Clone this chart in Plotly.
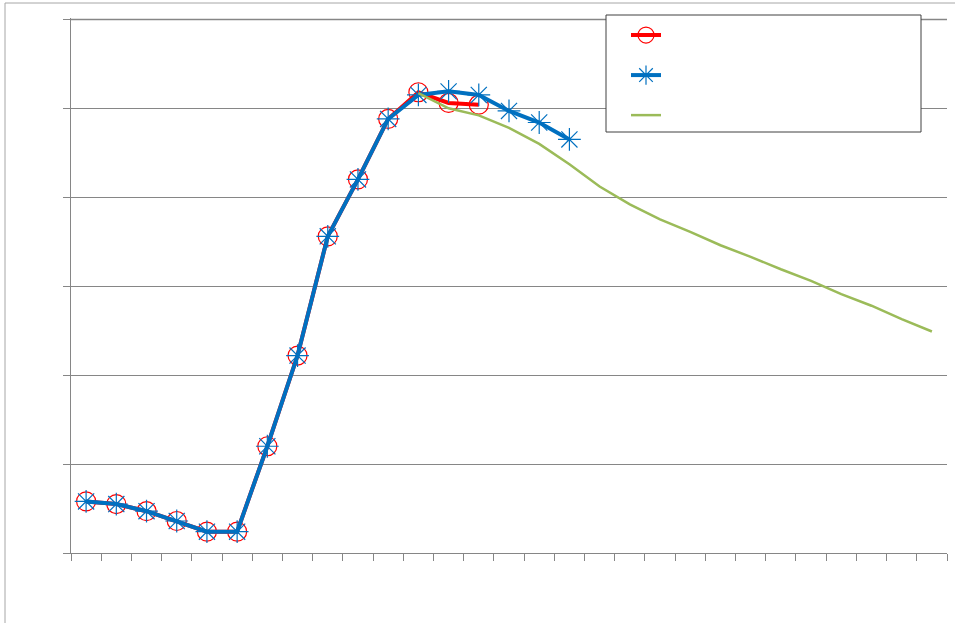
import plotly.graph_objects as go

# category positions 0..28 along the x axis
categories = list(range(29))

# measured series
series_a = [0.58, 0.55, 0.47, 0.36, 0.24, 0.24, 1.20, 2.22, 3.56, 4.20, 4.88, 5.18, 5.06, 5.04]
series_b = [0.58, 0.55, 0.47, 0.36, 0.24, 0.24, 1.20, 2.22, 3.56, 4.20, 4.88, 5.15, 5.19, 5.15, 4.97, 4.84, 4.65]
# fitted curve, starting at category 11
fit_start = 11
series_fit = [5.17, 5.00, 4.92, 4.78, 4.60, 4.37, 4.12, 3.92, 3.75, 3.61, 3.46, 3.33,
              3.19, 3.06, 2.91, 2.78, 2.63, 2.49]

y_max = 6

W, H = 955, 623
L, R, T, B = 71, 8, 18, 70
pw, ph = W - L - R, H - T - B


def px(x):
    return (x - L) / pw


def py(y):
    return (H - B - y) / ph


fig = go.Figure()

fig.add_trace(go.Scatter(
    x=categories[:len(series_a)], y=series_a, name=" ", mode="lines+markers",
    line=dict(color="#FF0000", width=4),
    marker=dict(symbol="circle-open", size=19, color="#FF0000", line=dict(width=1.2)),
))
fig.add_trace(go.Scatter(
    x=categories[:len(series_b)], y=series_b, name=" ", mode="lines+markers",
    line=dict(color="#0070C0", width=4),
    marker=dict(symbol="asterisk-open", size=19, color="#0070C0", line=dict(width=1.2, color="#0070C0")),
))
fig.add_trace(go.Scatter(
    x=categories[fit_start:fit_start + len(series_fit)], y=series_fit, name=" ", mode="lines",
    line=dict(color="#9BBB59", width=2.5),
))

shapes = [
    # chart frame
    dict(type="rect", xref="paper", yref="paper", x0=px(5), x1=px(965), y0=py(633), y1=py(3),
         line=dict(color="#A6A6A6", width=1), fillcolor="rgba(0,0,0,0)", layer="below"),
    # top gridline drawn explicitly along the upper edge
    dict(type="line", xref="paper", yref="paper", x0=0, x1=1, y0=py(19.5), y1=py(19.5),
         line=dict(color="#868686", width=1.5), layer="above"),
    # legend frame
    dict(type="rect", xref="paper", yref="paper", x0=px(606), x1=px(921), y0=py(132), y1=py(15),
         line=dict(color="#404040", width=1), fillcolor="white", layer="above"),
]

fig.update_layout(
    width=W, height=H,
    margin=dict(l=L, r=R, t=T, b=B),
    paper_bgcolor="white", plot_bgcolor="white",
    showlegend=True,
    legend=dict(x=px(626), y=py(10), xanchor="left", yanchor="top",
                bgcolor="rgba(0,0,0,0)", borderwidth=0,
                font=dict(size=28.5, family="Liberation Sans"), itemwidth=30,
                traceorder="normal"),
    shapes=shapes,
    xaxis=dict(range=[-0.5, 28.5], tickmode="array", tickvals=[i - 0.5 for i in range(30)],
               showticklabels=False, ticks="outside", ticklen=7, tickcolor="#868686",
               showgrid=False, zeroline=False, showline=True, linecolor="#868686", linewidth=1),
    # a hair of headroom keeps the top gridline inside the plot area
    yaxis=dict(range=[0, y_max * 1.0025], tickmode="array", tickvals=list(range(y_max + 1)),
               showticklabels=False, ticks="outside", ticklen=7,
               tickcolor="#868686", showgrid=True, gridcolor="#868686", gridwidth=1,
               zeroline=False, showline=True, linecolor="#868686", linewidth=1),
)

fig.write_html("out.html")
